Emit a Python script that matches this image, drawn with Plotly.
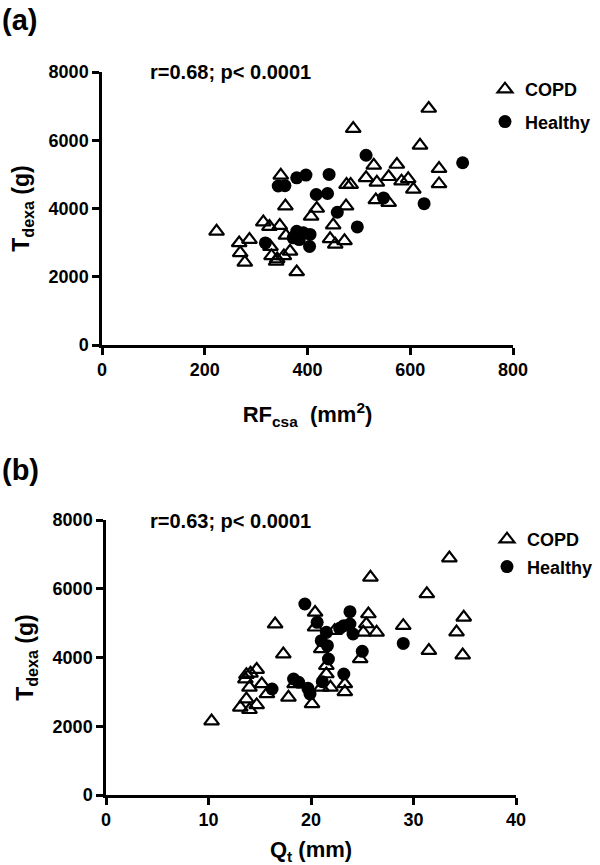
import plotly.graph_objects as go

# ---------------- Panel (a): T_dexa vs RF_csa ----------------
copd_a_rf = [489, 529, 574, 348, 514, 558, 535, 476, 484, 533, 558, 357, 418, 475,
             407, 450, 314, 326, 346, 223, 287, 267, 358, 444, 454, 472, 269, 278,
             330, 341, 354, 366, 339, 379, 636, 619, 656, 583, 596, 606, 656, 328]
copd_a_t = [6340, 5265, 5290, 4970, 4900, 4930, 4765, 4700, 4700, 4250, 4170, 4070, 4000, 4070,
            3770, 3515, 3600, 3470, 3500, 3330, 3090, 2990, 3210, 3110, 2950, 3050, 2700, 2420,
            2610, 2520, 2610, 2745, 2450, 2140, 6930, 5850, 5170, 4800, 4870, 4560, 4720, 2880]

healthy_a_rf = [514, 379, 397, 442, 343, 356, 417, 439, 458, 497, 379, 392, 405, 372,
                384, 404, 318, 702, 627, 548]
healthy_a_t = [5560, 4900, 4980, 5000, 4660, 4670, 4410, 4440, 3890, 3460, 3330, 3290, 3240, 3140,
               3090, 2890, 2990, 5340, 4140, 4310]

# ---------------- Panel (b): T_dexa vs Q_t ----------------
copd_b_qt = [10.3, 13.1, 14.0, 14.7, 13.7, 15.7, 14.0, 15.2, 13.6, 13.7, 14.1, 14.7, 16.5, 17.3,
             17.8, 18.4, 20.1, 20.4, 20.4, 21.0, 21.5, 21.5, 21.0, 21.9, 22.3, 23.3, 23.3, 24.8,
             25.6, 25.8, 25.4, 26.4, 25.1, 29.0, 31.3, 33.5, 34.9, 34.2, 34.8, 31.5]
copd_b_t = [2150, 2550, 2480, 2620, 2790, 2940, 3130, 3230, 3370, 3500, 3540, 3650, 4970, 4100,
            2840, 3230, 2650, 5310, 4880, 4250, 3760, 3520, 3130, 3130, 4780, 3230, 3000, 3960,
            5265, 6330, 4974, 4733, 4733, 4925, 5850, 6890, 5170, 4740, 4070, 4200]

healthy_b_qt = [19.4, 23.8, 20.6, 23.2, 23.8, 24.1, 21.5, 21.0, 21.6, 25.0, 21.7, 23.2, 18.3, 18.8,
                19.7, 19.9, 21.1, 16.2, 29.0, 22.8]
healthy_b_t = [5556, 5333, 5023, 4926, 4975, 4683, 4732, 4489, 4343, 4180, 3956, 3520, 3375, 3278,
               3104, 2938, 3297, 3084, 4410, 4850]

y_ticks = [0, 2000, 4000, 6000, 8000]
x_ticks_a = [0, 200, 400, 600, 800]
x_ticks_b = [0, 10, 20, 30, 40]

FONT = "Liberation Sans, Arial, Helvetica, sans-serif"

W, H = 600, 865

def px_x(p):
    return p / W

def px_y(p):
    return 1 - p / H

tri = dict(symbol="triangle-up-open", size=13, color="black", line=dict(width=2.2, color="black"))
dot = dict(symbol="circle", size=13, color="black", line=dict(width=0, color="black"))

fig = go.Figure()
fig.add_trace(go.Scatter(x=copd_a_rf, y=copd_a_t, mode="markers", name="COPD", marker=tri,
                         xaxis="x", yaxis="y", legend="legend", legendgroup="c", cliponaxis=False))
fig.add_trace(go.Scatter(x=healthy_a_rf, y=healthy_a_t, mode="markers", name="Healthy", marker=dot,
                         xaxis="x", yaxis="y", legend="legend", legendgroup="h", cliponaxis=False))
fig.add_trace(go.Scatter(x=copd_b_qt, y=copd_b_t, mode="markers", name="COPD", marker=tri,
                         xaxis="x2", yaxis="y2", legend="legend2", legendgroup="c2", cliponaxis=False))
fig.add_trace(go.Scatter(x=healthy_b_qt, y=healthy_b_t, mode="markers", name="Healthy", marker=dot,
                         xaxis="x2", yaxis="y2", legend="legend2", legendgroup="h2", cliponaxis=False))

axis_common = dict(
    showline=True, linewidth=2.5, linecolor="black", mirror=False,
    ticks="outside", ticklen=7, tickwidth=2.5, tickcolor="black",
    showgrid=False, zeroline=False, automargin=False,
    tickfont=dict(family=FONT, size=18, color="black", weight="bold"),
)

# plot areas (pixels)
a_left, a_right, a_top, a_bottom = 102, 513, 72, 345
b_left, b_right, b_top, b_bottom = 106, 516, 520, 795

fig.update_layout(
    template="none",
    width=W, height=H,
    margin=dict(l=0, r=0, t=0, b=0, autoexpand=False),
    paper_bgcolor="white", plot_bgcolor="white",
    font=dict(family=FONT, color="black"),
    xaxis=dict(axis_common, domain=[px_x(a_left), px_x(a_right)], range=[0, 800],
               tickvals=x_ticks_a, anchor="y",
               title=dict(text="RF<sub>csa</sub>  (mm<sup>2</sup>)",
                          font=dict(family=FONT, size=22, weight="bold"), standoff=28)),
    yaxis=dict(axis_common, domain=[px_y(a_bottom), px_y(a_top)], range=[0, 8000],
               tickvals=y_ticks, anchor="x",
               title=dict(text="T<sub>dexa</sub> (g)",
                          font=dict(family=FONT, size=23, weight="bold"), standoff=13)),
    xaxis2=dict(axis_common, domain=[px_x(b_left), px_x(b_right)], range=[0, 40],
                tickvals=x_ticks_b, anchor="y2",
                title=dict(text="Q<sub>t</sub> (mm)",
                           font=dict(family=FONT, size=22, weight="bold"), standoff=26)),
    yaxis2=dict(axis_common, domain=[px_y(b_bottom), px_y(b_top)], range=[0, 8000],
                tickvals=y_ticks, anchor="x2",
                title=dict(text="T<sub>dexa</sub> (g)",
                           font=dict(family=FONT, size=23, weight="bold"), standoff=13)),
    legend=dict(x=px_x(485), y=px_y(71), xanchor="left", yanchor="top",
                font=dict(family=FONT, size=18, color="black", weight="bold"),
                bgcolor="rgba(0,0,0,0)", borderwidth=0, tracegroupgap=6,
                traceorder="grouped"),
    legend2=dict(x=px_x(487), y=px_y(521), xanchor="left", yanchor="top",
                 font=dict(family=FONT, size=18, color="black", weight="bold"),
                 bgcolor="rgba(0,0,0,0)", borderwidth=0, tracegroupgap=1,
                 traceorder="grouped"),
    showlegend=True,
    annotations=[
        dict(text="(a)", x=0, y=px_y(20), xref="paper", yref="paper", xanchor="left",
             yanchor="middle", showarrow=False,
             font=dict(family=FONT, size=29, color="black", weight="bold")),
        dict(text="(b)", x=0, y=px_y(470), xref="paper", yref="paper", xanchor="left",
             yanchor="middle", showarrow=False,
             font=dict(family=FONT, size=29, color="black", weight="bold")),
        dict(text="r=0.68; p< 0.0001", x=px_x(148), y=px_y(72), xref="paper", yref="paper",
             xanchor="left", yanchor="middle", showarrow=False,
             font=dict(family=FONT, size=20, color="black", weight="bold")),
        dict(text="r=0.63; p< 0.0001", x=px_x(148), y=px_y(521), xref="paper", yref="paper",
             xanchor="left", yanchor="middle", showarrow=False,
             font=dict(family=FONT, size=20, color="black", weight="bold")),
    ],
)

fig.write_html("out.html",
               config={"displayModeBar": False},
               post_script="document.body.style.margin='0';document.body.style.padding='0';")
